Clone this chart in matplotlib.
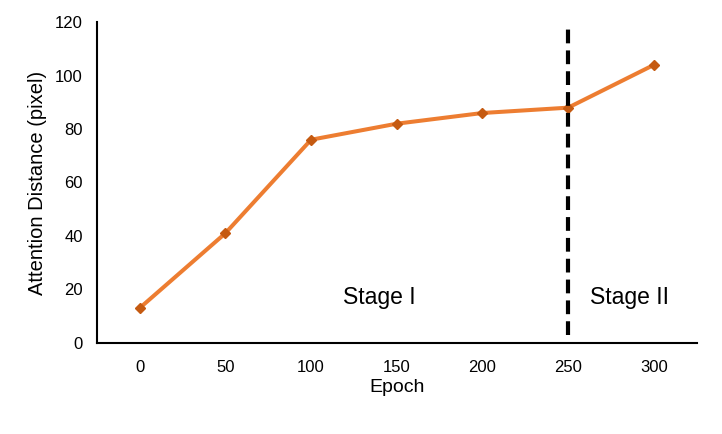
import matplotlib
matplotlib.use('Agg')
import matplotlib.pyplot as plt

plt.rcParams['font.family'] = ['Liberation Sans', 'DejaVu Sans']

# Data
epochs = [0, 50, 100, 150, 200, 250, 300]
distance = [13, 41, 76, 82, 86, 88, 104]
stage_split = 250

fig = plt.figure(figsize=(7.22, 4.34), dpi=100)
ax = fig.add_axes([0.134, 0.21, 0.831, 0.739])

ax.plot(epochs, distance, color='#ED7D31', linewidth=2.9, marker='D',
        markersize=5.5, markerfacecolor='#C55A11', markeredgecolor='#C55A11', zorder=3)

# stage boundary
ax.plot([stage_split, stage_split], [3, 118], color='black', linewidth=3,
        linestyle=(0, (3.3, 1.7)), zorder=4)

ax.text(140, 17, 'Stage I', fontsize=16.5, ha='center', va='center')
ax.text(285.5, 17, 'Stage II', fontsize=16.5, ha='center', va='center')

ax.set_xlim(-25, 325)
ax.set_ylim(0, 120)
ax.set_xticks(epochs)
ax.set_yticks(range(0, 121, 20))
ax.tick_params(length=0, labelsize=12)
ax.tick_params(axis='x', pad=12)
ax.tick_params(axis='y', pad=10)

ax.spines['top'].set_visible(False)
ax.spines['right'].set_visible(False)
ax.spines['left'].set_linewidth(1.5)
ax.spines['bottom'].set_linewidth(1.5)

ax.set_xlabel('Epoch', fontsize=14, labelpad=3)
ax.set_ylabel('Attention Distance (pixel)', fontsize=14.5, labelpad=6)

fig.savefig('out.png', dpi=100)
